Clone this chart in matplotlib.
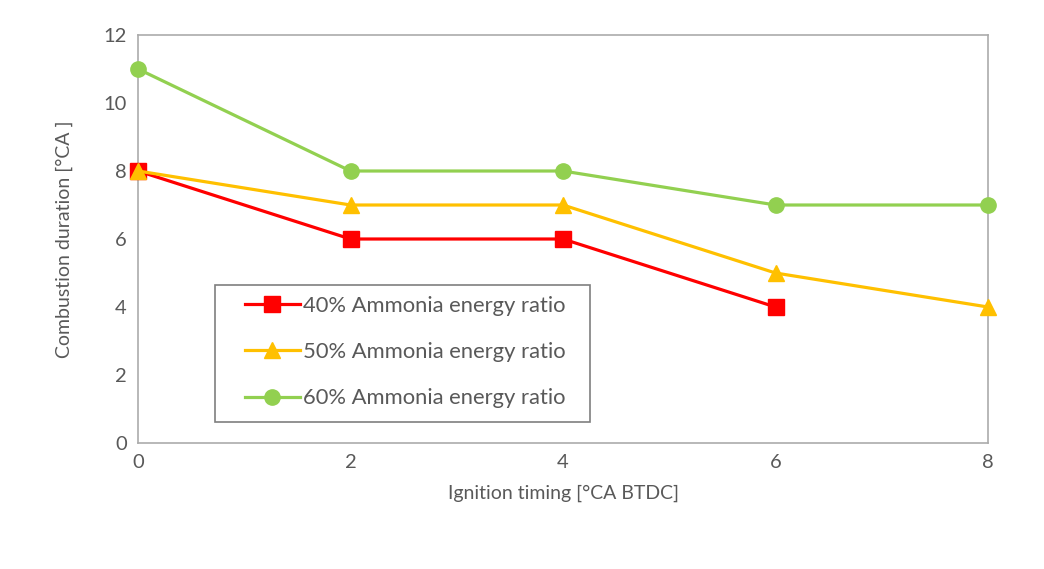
import matplotlib.pyplot as plt
from matplotlib.patches import Rectangle

timing = [0, 2, 4, 6, 8]
r40 = [8, 6, 6, 4]
r50 = [8, 7, 7, 5, 4]
r60 = [11, 8, 8, 7, 7]
labels = ["40% Ammonia energy ratio", "50% Ammonia energy ratio", "60% Ammonia energy ratio"]

plt.rcParams['font.family'] = ['Lato', 'DejaVu Sans']
grey = '#595959'

fig = plt.figure(figsize=(10.44, 5.69), dpi=100)
ax = fig.add_axes([0.1322, 0.2214, 0.8142, 0.7171])

ax.plot(timing[:4], r40, color='#FF0000', lw=2.3, marker='s', ms=11, clip_on=False, zorder=3, label=labels[0])
ax.plot(timing, r50, color='#FFC000', lw=2.3, marker='^', ms=11, clip_on=False, zorder=3, label=labels[1])
ax.plot(timing, r60, color='#92D050', lw=2.3, marker='o', ms=11, clip_on=False, zorder=3, label=labels[2])

ax.set_xlim(0, 8)
ax.set_ylim(0, 12)
ax.set_xticks(timing)
ax.set_yticks(range(0, 13, 2))
ax.tick_params(length=0, labelsize=14.5, colors=grey, pad=8)
for s in ax.spines.values():
    s.set_color('#ABABAB')
    s.set_linewidth(1.2)

ax.set_xlabel("Ignition timing [°CA BTDC]", fontsize=14, color=grey, labelpad=10)
ax.set_ylabel("Combustion duration [°CA ]", fontsize=14, color=grey, labelpad=22)

# legend frame drawn separately so its size matches the original
ax.add_patch(Rectangle((0.0906, 0.051), 0.441, 0.336, transform=ax.transAxes,
                       facecolor='white', edgecolor='#7F7F7F', lw=1.2, zorder=4))
leg = ax.legend(bbox_to_anchor=(0.1259, 0.223), loc='center left', frameon=False,
                fontsize=15.8, labelspacing=1.2, handlelength=2.5, handletextpad=0.15,
                borderpad=0, borderaxespad=0)
leg.set_zorder(5)
for t in leg.get_texts():
    t.set_color(grey)

fig.savefig('out.png', dpi=100)
